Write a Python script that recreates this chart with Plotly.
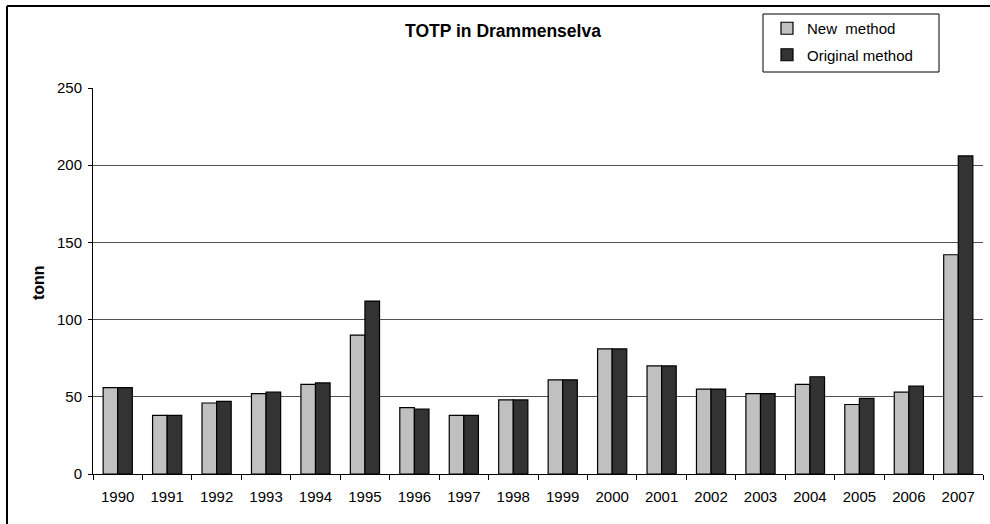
import plotly.graph_objects as go

years = [str(y) for y in range(1990, 2008)]
new_method = [56, 38, 46, 52, 58, 90, 43, 38, 48, 61, 81, 70, 55, 52, 58, 45, 53, 142]
original_method = [56, 38, 47, 53, 59, 112, 42, 38, 48, 61, 81, 70, 55, 52, 63, 49, 57, 206]
y_ticks = [0, 50, 100, 150, 200, 250]

W, H = 990, 524
L, R, T, B = 93, 7, 88, 50
pw, ph = W - L - R, H - T - B

def px_x(x):
    return (x - L) / pw

def px_y(y):
    return (H - B - y) / ph

FAM = "Liberation Sans, Arial, sans-serif"
font = dict(family=FAM, size=15, color="black")

fig = go.Figure()
fig.add_trace(go.Bar(x=years, y=new_method, name="New  method",
                     marker=dict(color="#C0C0C0", line=dict(color="black", width=1.2)),
                     legendgroup="a"))
fig.add_trace(go.Bar(x=years, y=original_method, name="Original method",
                     marker=dict(color="#333333", line=dict(color="black", width=1.2)),
                     legendgroup="b"))

fig.update_layout(
    width=W, height=H,
    margin=dict(l=L, r=R, t=T, b=B),
    paper_bgcolor="white", plot_bgcolor="white",
    font=font,
    barmode="group", bargap=0.41, bargroupgap=0,
    showlegend=True,
    legend=dict(x=px_x(767), y=px_y(12), xanchor="left", yanchor="top",
                bgcolor="rgba(0,0,0,0)", borderwidth=0, tracegroupgap=4,
                font=dict(family=FAM, size=15, color="black")),
    title=dict(text="<b>TOTP in Drammenselva</b>", x=503 / W, xanchor="center",
               y=1 - 31 / H, yanchor="middle",
               font=dict(family=FAM, size=17.5, color="black")),
    xaxis=dict(type="category", showline=True, linecolor="black", linewidth=1,
               ticks="outside", tickson="boundaries", ticklen=5, tickcolor="black",
               showgrid=False, tickfont=font, ticklabelstandoff=9),
    yaxis=dict(range=[0, 250], tickvals=y_ticks, showline=True, linecolor="black",
               linewidth=1, ticks="outside", ticklen=4, tickcolor="black",
               showgrid=True, gridcolor="#505050", gridwidth=1, zeroline=False,
               tickfont=font, ticklabelstandoff=3),
    shapes=[
        dict(type="line", xref="paper", yref="paper",
             x0=px_x(7), x1=px_x(7), y0=px_y(6), y1=px_y(530),
             line=dict(color="black", width=2), layer="above"),
        dict(type="line", xref="paper", yref="paper",
             x0=px_x(7), x1=px_x(995), y0=px_y(6), y1=px_y(6),
             line=dict(color="black", width=2), layer="above"),
        dict(type="rect", xref="paper", yref="paper",
             x0=px_x(763), x1=px_x(939), y0=px_y(14), y1=px_y(72),
             line=dict(color="black", width=1), fillcolor="rgba(0,0,0,0)"),
    ],
    annotations=[
        dict(text="<b>tonn</b>", xref="paper", yref="paper", x=px_x(38), y=px_y(283),
             xanchor="center", yanchor="middle", textangle=-90, showarrow=False,
             font=dict(family=FAM, size=16, color="black")),
    ],
)

fig.write_html("out.html", config={"displayModeBar": False},
               post_script="document.body.style.margin='0';document.body.style.overflow='hidden';")
